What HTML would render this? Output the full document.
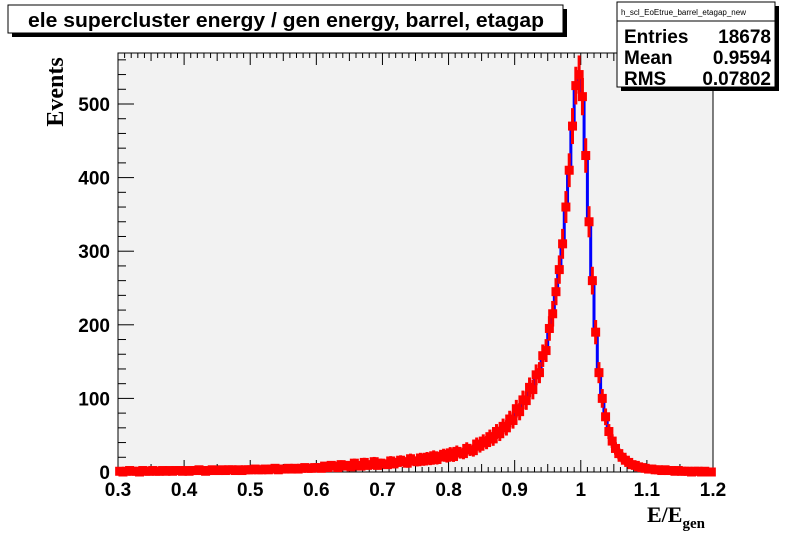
<!DOCTYPE html>
<html><head><meta charset="utf-8"><style>
body{margin:0;background:#fff;}
svg text{font-family:"Liberation Sans",Arial,sans-serif;}
</style></head><body>
<svg id="c" width="792" height="544" xmlns="http://www.w3.org/2000/svg">
<rect x="0" y="0" width="792" height="544" fill="#fff"/>
<rect x="118" y="53" width="595" height="419" fill="#f2f2f2" stroke="#000" stroke-width="1"/>
<g id="ticks"></g>
<g id="hist"></g>
<g id="marks"></g>
<g id="labels"></g>
<rect x="12" y="9" width="555" height="28" fill="#000"/>
<rect x="8" y="5" width="555" height="28" fill="#fff" stroke="#000"/>
<text x="286" y="27" text-anchor="middle" font-size="20" font-weight="bold" textLength="516" lengthAdjust="spacingAndGlyphs">ele supercluster energy / gen energy, barrel, etagap</text>
<g>
<rect x="621" y="6" width="158" height="85" fill="#000"/>
<rect x="617" y="2" width="158" height="85" fill="#fff" stroke="#000"/>
<line x1="617" y1="21" x2="775" y2="21" stroke="#000"/>
<text x="621" y="15" font-size="8">h_scl_EoEtrue_barrel_etagap_new</text>
<text x="624" y="43" font-size="19" font-weight="bold">Entries</text><text x="771" y="43" font-size="19" font-weight="bold" text-anchor="end">18678</text>
<text x="624" y="64" font-size="19" font-weight="bold">Mean</text><text x="771" y="64" font-size="19" font-weight="bold" text-anchor="end">0.9594</text>
<text x="624" y="85" font-size="19" font-weight="bold">RMS</text><text x="771" y="85" font-size="19" font-weight="bold" text-anchor="end">0.07802</text>
</g>
<text transform="translate(63,92) rotate(-90)" font-size="24" font-weight="bold" style="font-family:'Liberation Serif',serif" text-anchor="middle">Events</text>
<text x="647" y="522" font-size="22" font-weight="bold" style="font-family:'Liberation Serif',serif">E/E<tspan font-size="15" dy="6">gen</tspan></text>
</svg>
<script>
const binStart = 0.3;
const binWidth = 0.005;
const counts = [
1,0,1,2,1,1,0,2,1,1,2,1,1,2,1,2,1,2,2,1,
2,1,2,2,3,2,1,2,3,2,2,3,2,3,3,2,3,2,3,3,
3,4,3,3,4,3,4,5,3,4,4,5,4,5,4,5,6,5,5,6,
6,5,8,6,9,8,6,10,8,9,7,12,9,8,13,9,10,14,9,12,
11,10,15,11,13,16,14,12,18,15,14,19,15,20,16,22,17,21,24,20,
26,21,28,26,25,32,30,29,38,35,
42,40,48,45,55,52,62,60,72,70,
86,82,98,97,115,112,132,135,158,165,
195,215,245,275,310,360,410,470,525,540,
510,430,340,260,190,135,100,75,55,42,
32,25,20,16,13,10,9,7,6,5,
4,4,3,3,2,3,2,2,1,2,1,1,1,0,1,1,0,1,0,0];
const xTicks = [0.3,0.4,0.5,0.6,0.7,0.8,0.9,1.0,1.1,1.2];
const xTickLabels = ["0.3","0.4","0.5","0.6","0.7","0.8","0.9","1","1.1","1.2"];
const yTicks = [0,100,200,300,400,500];
const X = v => 118 + (v - 0.3) / 0.9 * 595;
const Y = v => 472 - v * 0.736;
const NS = "http://www.w3.org/2000/svg";
function mk(tag, attrs, parent){const e=document.createElementNS(NS,tag);for(const k in attrs)e.setAttribute(k,attrs[k]);document.getElementById(parent).appendChild(e);return e;}
for (let i=0;i<=90;i++){const v=0.3+i*0.01;const big=i%10===0;const mid=i%5===0;const L=big?12:(mid?8:5);
 const t=mk('line',{x1:X(v),x2:X(v),y1:472,y2:472-L,stroke:'#000'},'ticks');
 const t2=mk('line',{x1:X(v),x2:X(v),y1:53,y2:53+L,stroke:'#000'},'ticks');}
for (let v=0;v<=560;v+=20){const big=v%100===0;const L=big?16:8;
 const t=mk('line',{x1:118,x2:118+L,y1:Y(v),y2:Y(v),stroke:'#000'},'ticks');}
xTicks.forEach((v,i)=>{const t=mk('text',{x:X(v),y:496,'text-anchor':'middle','font-size':19,'font-weight':'bold'},'labels');t.textContent=xTickLabels[i];});
yTicks.forEach(v=>{const t=mk('text',{x:110,y:Y(v)+7,'text-anchor':'end','font-size':19,'font-weight':'bold'},'labels');t.textContent=String(v);});
let d='M'+X(binStart)+','+Y(0);
counts.forEach((c,i)=>{const x0=X(binStart+i*binWidth),x1=X(binStart+(i+1)*binWidth);d+=' L'+x0+','+Y(c)+' L'+x1+','+Y(c);});
d+=' L'+X(binStart+counts.length*binWidth)+','+Y(0);
const h=mk('path',{d:d,fill:'none',stroke:'#0000ff','stroke-width':3},'hist');
counts.forEach((c,i)=>{const xc=X(binStart+(i+0.5)*binWidth);const e=Math.sqrt(c);
 const g=mk('g',{},'marks');
 const ln=document.createElementNS(NS,'line');ln.setAttribute('x1',xc);ln.setAttribute('x2',xc);ln.setAttribute('y1',Y(c+e)-2);ln.setAttribute('y2',Y(Math.max(0,c-e))+2);ln.setAttribute('stroke','#ff0000');ln.setAttribute('stroke-width',3);g.appendChild(ln);
 const r=document.createElementNS(NS,'rect');r.setAttribute('x',xc-4.5);r.setAttribute('y',Y(c)-4.5);r.setAttribute('width',9);r.setAttribute('height',9);r.setAttribute('fill','#ff0000');g.appendChild(r);});
</script>
</body></html>
